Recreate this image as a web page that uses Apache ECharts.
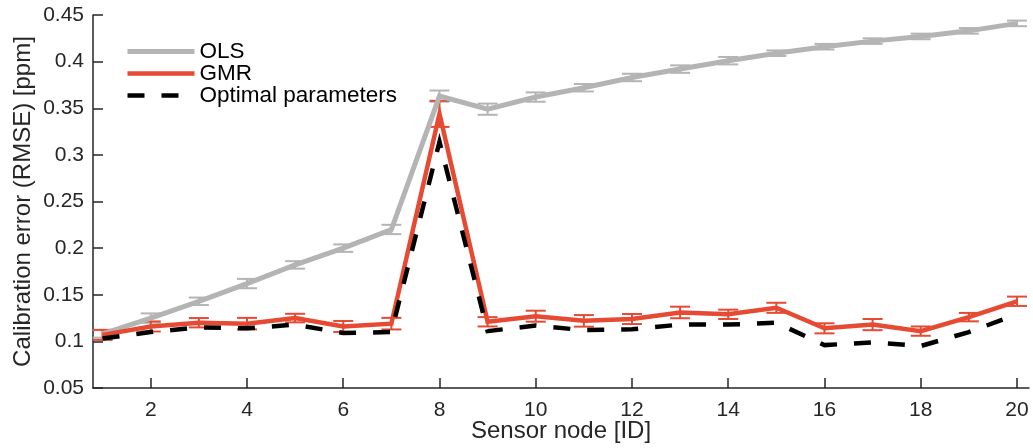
<!DOCTYPE html>
<html>
<head>
<meta charset="utf-8">
<script src="https://cdn.jsdelivr.net/npm/echarts@6/dist/echarts.min.js"></script>
<style>
  html, body { margin: 0; padding: 0; background: #fff; }
  #chart { width: 1033px; height: 448px; }
</style>
</head>
<body>
<div id="chart"></div>
<script>
// Sensor nodes and RMSE values
const nodeIds = [1, 2, 3, 4, 5, 6, 7, 8, 9, 10, 11, 12, 13, 14, 15, 16, 17, 18, 19, 20];
const olsRmse = [0.108, 0.125, 0.143, 0.162, 0.182, 0.200, 0.220, 0.363, 0.349, 0.362,
                 0.372, 0.383, 0.392, 0.401, 0.409, 0.416, 0.422, 0.427, 0.433, 0.441];
const olsErr = [0.004, 0.005, 0.004, 0.005, 0.004, 0.004, 0.005, 0.006, 0.006, 0.005,
                0.004, 0.004, 0.004, 0.004, 0.003, 0.003, 0.003, 0.003, 0.003, 0.003];
const gmrRmse = [0.107, 0.116, 0.120, 0.119, 0.125, 0.116, 0.119, 0.344, 0.121, 0.127,
                 0.122, 0.124, 0.131, 0.129, 0.136, 0.114, 0.118, 0.111, 0.126, 0.143];
const gmrErr = [0.0054, 0.0054, 0.005, 0.0062, 0.0046, 0.0059, 0.0062, 0.014, 0.005, 0.0059,
                0.0062, 0.0054, 0.0062, 0.005, 0.0054, 0.0054, 0.006, 0.005, 0.0045, 0.005];
const optRmse = [0.103, 0.110, 0.115, 0.114, 0.118, 0.109, 0.110, 0.314, 0.111, 0.117,
                 0.112, 0.113, 0.118, 0.118, 0.120, 0.096, 0.099, 0.095, 0.110, 0.129];
const xTicks = [2, 4, 6, 8, 10, 12, 14, 16, 18, 20];

const FONT = "'Liberation Sans', Arial, Helvetica, sans-serif";
const AXIS_COLOR = '#262626';
const GRAY = '#b4b4b4';
const RED = '#e64a33';

const pairs = (ys) => nodeIds.map((x, i) => [x, ys[i]]);
const bars = (ys, es) => nodeIds.map((x, i) => [x, ys[i] - es[i], ys[i] + es[i]]);

// vertical error bar with caps
function renderErrorBar(params, api) {
  const x = api.value(0);
  const lo = api.coord([x, api.value(1)]);
  const hi = api.coord([x, api.value(2)]);
  const half = 10;
  const style = { stroke: api.visual('color'), lineWidth: 2 };
  return {
    type: 'group',
    children: [
      { type: 'line', shape: { x1: lo[0], y1: lo[1], x2: hi[0], y2: hi[1] }, style },
      { type: 'line', shape: { x1: lo[0] - half, y1: lo[1], x2: lo[0] + half, y2: lo[1] }, style },
      { type: 'line', shape: { x1: hi[0] - half, y1: hi[1], x2: hi[0] + half, y2: hi[1] }, style }
    ]
  };
}

let chart = echarts.init(document.getElementById('chart'));

let option = {
  animation: false,
  grid: { left: 93, right: 4, top: 15, bottom: 60, outerBoundsMode: 'none', containLabel: false },
  legend: {
    data: [
      { name: 'OLS', lineStyle: { width: 5 } },
      { name: 'GMR', lineStyle: { width: 4.5 } },
      { name: 'Optimal parameters', lineStyle: { width: 4.5, type: [17, 17] } }
    ],
    orient: 'vertical',
    left: 125,
    top: 40,
    padding: 0,
    itemWidth: 67,
    itemHeight: 10,
    itemGap: -1,
    itemStyle: { opacity: 0 },
    textStyle: { fontFamily: FONT, fontSize: 22.5, color: '#000' }
  },
  xAxis: {
    type: 'value',
    min: 0.8,
    max: 20.25,
    name: 'Sensor node [ID]',
    nameLocation: 'middle',
    nameGap: 31,
    nameMoveOverlap: false,
    nameTextStyle: { fontFamily: FONT, fontSize: 24, color: AXIS_COLOR },
    axisLine: { lineStyle: { color: AXIS_COLOR, width: 1.5 } },
    axisTick: { inside: true, length: 10, customValues: xTicks, lineStyle: { color: AXIS_COLOR, width: 1.5 } },
    axisLabel: { customValues: xTicks, margin: 12, fontFamily: FONT, fontSize: 21, color: AXIS_COLOR },
    splitLine: { show: false }
  },
  yAxis: {
    type: 'value',
    min: 0.05,
    max: 0.45,
    interval: 0.05,
    name: 'Calibration error (RMSE) [ppm]',
    nameLocation: 'middle',
    nameGap: 58,
    nameMoveOverlap: false,
    nameTextStyle: { fontFamily: FONT, fontSize: 24, color: AXIS_COLOR },
    axisLine: { show: true, lineStyle: { color: AXIS_COLOR, width: 1.5 } },
    axisTick: { show: true, inside: true, length: 10, lineStyle: { color: AXIS_COLOR, width: 1.5 } },
    axisLabel: { margin: 9, fontFamily: FONT, fontSize: 21, color: AXIS_COLOR },
    splitLine: { show: false }
  },
  series: [
    {
      type: 'custom',
      renderItem: renderErrorBar,
      itemStyle: { color: GRAY },
      encode: { x: 0, y: [1, 2] },
      data: bars(olsRmse, olsErr),
      silent: true
    },
    {
      name: 'OLS',
      type: 'line',
      data: pairs(olsRmse),
      symbol: 'none',
      color: GRAY,
      lineStyle: { width: 5, color: GRAY, join: 'miter' }
    },
    {
      type: 'custom',
      renderItem: renderErrorBar,
      itemStyle: { color: RED },
      encode: { x: 0, y: [1, 2] },
      data: bars(gmrRmse, gmrErr),
      silent: true
    },
    {
      name: 'GMR',
      type: 'line',
      data: pairs(gmrRmse),
      symbol: 'none',
      color: RED,
      lineStyle: { width: 4.5, color: RED, join: 'miter' }
    },
    {
      name: 'Optimal parameters',
      type: 'line',
      data: pairs(optRmse),
      symbol: 'none',
      color: '#000',
      lineStyle: { width: 4.5, color: '#000', type: [17, 17], join: 'miter' }
    }
  ]
};

chart.setOption(option);
</script>
</body>
</html>
